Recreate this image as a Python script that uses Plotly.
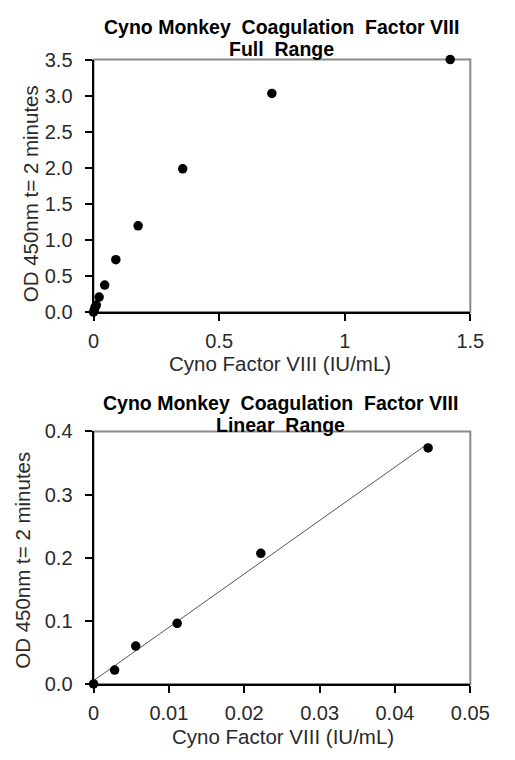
import numpy as np
import plotly.graph_objects as go

# Data
full_x = [0, 0.0028, 0.0056, 0.0111, 0.0222, 0.0444, 0.0888, 0.1775, 0.355, 0.71, 1.42]
full_y = [0.0, 0.022, 0.060, 0.096, 0.207, 0.374, 0.725, 1.195, 1.985, 3.03, 3.50]
lin_x = [0, 0.0028, 0.0056, 0.0111, 0.0222, 0.0444]
lin_y = [0.0, 0.022, 0.060, 0.096, 0.207, 0.374]

title_line1 = "Cyno Monkey  Coagulation  Factor VIII"
title_top_line2 = "Full  Range"
title_bot_line2 = "Linear  Range"
x_title = "Cyno Factor VIII (IU/mL)"
y_title = "OD 450nm t= 2 minutes"

slope, intercept = np.polyfit(lin_x, lin_y, 1)
fit_x = [0, max(lin_x)]
fit_y = [intercept + slope * v for v in fit_x]

FONT = "Liberation Sans, Arial, sans-serif"
W, H = 515, 760
xl, xr = 92 / W, 488 / W
top_dom = [1 - 310 / H, 1 - 50 / H]
bot_dom = [1 - 693 / H, 1 - 433 / H]

fig = go.Figure()
fig.add_trace(go.Scatter(x=full_x, y=full_y, mode="markers", xaxis="x", yaxis="y",
                         marker=dict(color="black", size=9.5), cliponaxis=False, showlegend=False))
fig.add_trace(go.Scatter(x=fit_x, y=fit_y, mode="lines", xaxis="x2", yaxis="y2",
                         line=dict(color="#555555", width=1), showlegend=False))
fig.add_trace(go.Scatter(x=lin_x, y=lin_y, mode="markers", xaxis="x2", yaxis="y2",
                         marker=dict(color="black", size=9.5), cliponaxis=False, showlegend=False))

axis_common = dict(showgrid=False, zeroline=False, showline=True, linecolor="black", linewidth=2,
                   ticks="outside", ticklen=7, tickwidth=1.5, tickcolor="black",
                   tickfont=dict(family=FONT, size=20, color="#2a2a2a"))

fig.update_layout(
    width=W, height=H, margin=dict(l=0, r=0, t=0, b=0),
    paper_bgcolor="white", plot_bgcolor="white",
    xaxis=dict(domain=[xl, xr], range=[0, 1.5], dtick=0.5, anchor="y", ticklabelstandoff=3, **axis_common),
    yaxis=dict(domain=top_dom, range=[0, 3.5], dtick=0.5, tickformat=".1f", anchor="x", ticklabelstandoff=8, **axis_common),
    xaxis2=dict(domain=[xl, xr], range=[0, 0.05], dtick=0.01, anchor="y2", ticklabelstandoff=3, **axis_common),
    yaxis2=dict(domain=bot_dom, range=[0, 0.4], dtick=0.1, tickformat=".1f", anchor="x2", ticklabelstandoff=8, **axis_common),
)

# gray frame (top & right)
for yr, xr_ in (("y domain", "x domain"), ("y2 domain", "x2 domain")):
    fig.add_shape(type="rect", xref=xr_, yref=yr, x0=0, x1=1, y0=0, y1=1,
                  line=dict(color="#8a8a8a", width=2), layer="below")

def txt(text, x, y, size, bold=False, angle=0, color="#2a2a2a"):
    return dict(text=("<b>%s</b>" % text) if bold else text, x=x / W, y=1 - y / H,
                xref="paper", yref="paper", xanchor="center", yanchor="middle",
                showarrow=False, textangle=angle,
                font=dict(family=FONT, size=size, color=color))

ann = [
    txt(title_line1, 290, 16, 19.5, bold=True, color="black"),
    txt(title_top_line2, 290, 39, 19.5, bold=True, color="black"),
    txt(title_line1, 288, 404, 19.5, bold=True, color="black"),
    txt(title_bot_line2, 288, 426, 19.5, bold=True, color="black"),
    txt(x_title, 288, 363, 20.5),
    txt(x_title, 291, 747, 20.5),
    txt(y_title, 26, 188, 20.5, angle=-90),
    txt(y_title, 17, 566, 20.5, angle=-90),
]
fig.update_layout(annotations=ann)

fig.write_html("out.html", config={"displayModeBar": False},
               post_script="document.body.style.margin='0px';document.body.style.padding='0px';document.body.style.overflow='hidden';")
